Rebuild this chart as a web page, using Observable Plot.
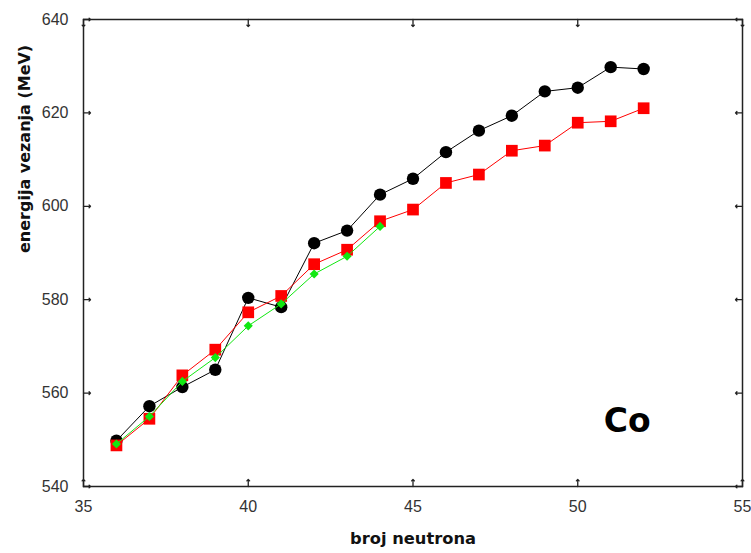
<!DOCTYPE html>
<html>
<head>
<meta charset="utf-8">
<script src="https://cdn.jsdelivr.net/npm/d3@7"></script>
<script src="https://cdn.jsdelivr.net/npm/@observablehq/plot@0.6"></script>
<style>
  html, body { margin: 0; padding: 0; background: #fff; }
  #chart { width: 751px; height: 553px; }
</style>
</head>
<body>
<div id="chart"></div>
<script>
// Neutron numbers
const neutrons = [36, 37, 38, 39, 40, 41, 42, 43, 44, 45, 46, 47, 48, 49, 50, 51, 52];
// Black circles
const blackValues = [549.8, 557.2, 561.3, 565.0, 580.4, 578.4, 592.1, 594.8, 602.5, 605.9, 611.6, 616.2, 619.4, 624.6, 625.4, 629.8, 629.4];
// Red squares
const redValues = [548.8, 554.5, 563.8, 569.3, 577.3, 580.8, 587.6, 590.7, 596.8, 599.3, 605.0, 606.8, 611.9, 613.0, 617.9, 618.2, 621.0];
// Green diamonds (N = 36..44)
const greenNeutrons = [36, 37, 38, 39, 40, 41, 42, 43, 44];
const greenValues = [549.1, 555.0, 562.5, 567.6, 574.4, 579.1, 585.5, 589.3, 595.7];

const xTicks = [35, 40, 45, 50, 55];
const yTicks = [540, 560, 580, 600, 620, 640];
const xDomain = [35, 55];
const yDomain = [540, 640];
const xLabel = "broj neutrona";
const yLabel = "energija vezanja (MeV)";
const elementLabel = ["Co"];

const black = neutrons.map((n, i) => ({n, v: blackValues[i]}));
const red = neutrons.map((n, i) => ({n, v: redValues[i]}));
const green = greenNeutrons.map((n, i) => ({n, v: greenValues[i]}));

const chart = Plot.plot({
  width: 751,
  height: 553,
  marginLeft: 83,
  marginRight: 9,
  marginTop: 19,
  marginBottom: 67,
  style: {background: "#fff", fontFamily: "'Liberation Sans', Arial, sans-serif"},
  x: {domain: xDomain, ticks: xTicks},
  y: {domain: yDomain, ticks: yTicks},
  marks: [
    // tick labels
    Plot.axisX(xTicks, {tickSize: 0, tickPadding: 14, fontSize: 16, fill: "#333", label: null}),
    Plot.axisY(yTicks, {tickSize: 0, tickPadding: 15, fontSize: 16, fill: "#333", label: null}),
    // inward ticks
    Plot.vector(xTicks, {x: d => d, y: yDomain[0], length: 7, rotate: 0, anchor: "start", stroke: "#222", strokeWidth: 1.3}),
    Plot.vector(xTicks, {x: d => d, y: yDomain[1], length: 7, rotate: 180, anchor: "start", stroke: "#222", strokeWidth: 1.3}),
    Plot.vector(yTicks, {y: d => d, x: xDomain[0], length: 7, rotate: 90, anchor: "start", stroke: "#222", strokeWidth: 1.3}),
    Plot.vector(yTicks, {y: d => d, x: xDomain[1], length: 7, rotate: 270, anchor: "start", stroke: "#222", strokeWidth: 1.3}),
    Plot.frame({stroke: "#222", strokeWidth: 1.5}),
    // black series
    Plot.line(black, {x: "n", y: "v", stroke: "#000", strokeWidth: 1}),
    Plot.dot(black, {x: "n", y: "v", r: 6.2, fill: "#000", stroke: "none"}),
    // red series
    Plot.line(red, {x: "n", y: "v", stroke: "#ff0000", strokeWidth: 1}),
    Plot.dot(red, {x: "n", y: "v", r: 6.6, symbol: "square", fill: "#ff0000", stroke: "none"}),
    // green series
    Plot.line(green, {x: "n", y: "v", stroke: "#11e811", strokeWidth: 1}),
    Plot.dot(green, {x: "n", y: "v", r: 4.1, symbol: "diamond2", fill: "#11e811", stroke: "none"}),
    // axis titles
    Plot.text([xLabel], {frameAnchor: "bottom", dy: 57, text: d => d, fontFamily: "'DejaVu Sans', Verdana, sans-serif", fontWeight: "bold", fontSize: 16.3, fill: "#111"}),
    Plot.text([yLabel], {frameAnchor: "left", dx: -59, rotate: -90, text: d => d, fontFamily: "'DejaVu Sans', Verdana, sans-serif", fontWeight: "bold", fontSize: 16, fill: "#111"}),
    // element label
    Plot.text(elementLabel, {x: 51.5, y: 553.9, text: d => d, fontFamily: "'DejaVu Sans', Verdana, sans-serif", fontWeight: "bold", fontSize: 33, fill: "#000"})
  ]
});
document.getElementById("chart").appendChild(chart);
</script>
</body>
</html>
